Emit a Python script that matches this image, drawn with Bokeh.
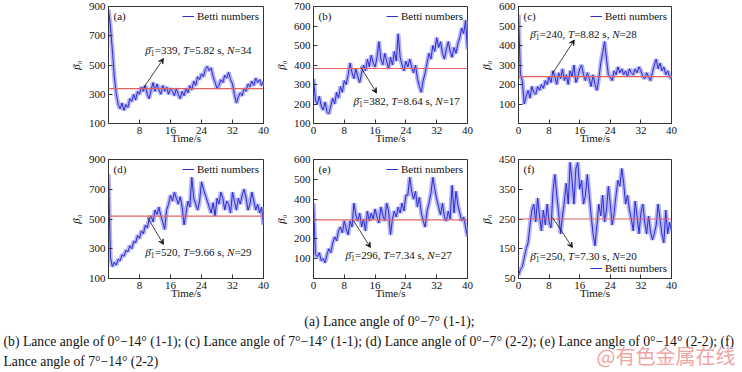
import numpy as np
from bokeh.plotting import figure
from bokeh.layouts import row, column
from bokeh.models import (Span, Arrow, VeeHead, Legend, LegendItem,
                          ColumnDataSource, FixedTicker, Range1d)
from bokeh.core.properties import value
from bokeh.embed import file_html
from bokeh.resources import INLINE

FONT = "Liberation Serif"

# ---------------- data (0.5 s steps, 0..40 s) ----------------
betti_a = [880, 760, 600, 420, 300, 230, 200, 240, 190, 230,
           210, 270, 250, 300, 260, 320, 300, 350, 320, 360,
           300, 270, 330, 380, 320, 370, 330, 300, 360, 320,
           350, 300, 340, 320, 290, 340, 300, 270, 320, 290,
           340, 310, 360, 330, 390, 360, 420, 400, 440, 420,
           470, 490, 460, 480, 420, 380, 340, 360, 400, 380,
           430, 410, 450, 400, 370, 300, 240, 280, 310, 290,
           340, 320, 370, 350, 390, 360, 410, 380, 400, 360,
           390]
betti_b = [330, 220, 200, 240, 190, 170, 210, 160, 150, 190,
           230, 200, 260, 230, 290, 260, 320, 300, 350, 410,
           360, 330, 380, 340, 310, 360, 400, 370, 430, 390,
           450, 410, 390, 440, 520, 430, 400, 460, 420, 380,
           440, 400, 470, 420, 560, 440, 400, 370, 420, 390,
           430, 390, 360, 400, 330, 290, 260, 320, 360, 410,
           460, 430, 500, 470, 540, 490, 520, 460, 430, 480,
           520, 470, 440, 490, 460, 510, 540, 590, 560, 630,
           480]
betti_c = [560, 250, 220, 100, 140, 170, 130, 190, 160, 150,
           190, 170, 200, 180, 220, 200, 240, 210, 270, 240,
           200, 260, 230, 280, 220, 250, 200, 270, 240, 300,
           210, 240, 280, 300, 250, 220, 260, 230, 190, 250,
           200, 170, 230, 310, 360, 420, 330, 250, 240, 220,
           270, 250, 290, 260, 280, 250, 270, 240, 280, 260,
           250, 280, 260, 290, 270, 240, 230, 260, 240, 220,
           260, 300, 330, 280, 310, 270, 290, 250, 270, 240,
           230]
betti_d = [800, 240, 180, 210, 190, 230, 220, 260, 250, 290,
           280, 320, 300, 350, 340, 390, 370, 420, 400, 460,
           440, 500, 520, 480, 560, 530, 580, 520, 480, 430,
           560, 600, 660, 620, 680, 640, 600, 650, 580, 460,
           540, 620, 580, 780, 640, 600, 560, 620, 750, 700,
           660, 620, 580, 540, 610, 520, 640, 600, 680, 640,
           560, 620, 600, 540, 680, 620, 560, 640, 600, 660,
           700, 640, 560, 600, 680, 620, 560, 600, 540, 580,
           460]
betti_e = [380, 120, 110, 130, 90, 100, 80, 120, 150, 130,
           180, 210, 190, 240, 260, 230, 290, 250, 220, 290,
           260, 380, 320, 290, 330, 260, 300, 240, 340, 290,
           330, 300, 350, 310, 280, 360, 320, 290, 380, 340,
           220, 300, 340, 310, 360, 330, 380, 340, 420, 420,
           510, 440, 400, 440, 360, 410, 330, 290, 260, 340,
           380, 430, 510, 450, 400, 360, 320, 380, 310, 290,
           340, 300, 470, 330, 440, 370, 330, 290, 310, 260,
           210]
betti_f = [60, 80, 90, 120, 150, 170, 230, 280, 300, 240,
           320, 260, 210, 280, 230, 300, 240, 220, 340, 400,
           330, 270, 200, 260, 310, 370, 300, 440, 380, 300,
           420, 440, 350, 380, 300, 330, 400, 330, 260, 200,
           160, 230, 300, 260, 330, 240, 280, 360, 300, 230,
           270, 330, 380, 360, 420, 370, 300, 330, 280, 250,
           210, 310, 260, 200, 270, 300, 240, 200, 260, 210,
           180, 200, 230, 300, 250, 200, 170, 280, 200, 240,
           210]

series = [betti_a, betti_b, betti_c, betti_d, betti_e, betti_f]
panel_tags = ["(a)", "(b)", "(c)", "(d)", "(e)", "(f)"]
mean_beta = [339, 382, 240, 520, 296, 250]
period_T = ["5.82", "8.64", "8.82", "9.66", "7.34", "7.30"]
count_N = [34, 17, 28, 29, 27, 20]
y_limits = [(100, 900), (100, 700), (0, 600), (100, 900), (0, 600), (50, 450)]
y_tick_vals = [[100, 300, 500, 700, 900],
               [100, 200, 300, 400, 500, 600, 700],
               [100, 200, 300, 400, 500, 600],
               [100, 300, 500, 700, 900],
               [100, 200, 300, 400, 500, 600],
               [50, 150, 250, 350, 450]]
x_tick_vals = [[8, 16, 24, 32, 40], [0, 8, 16, 24, 32, 40], [0, 8, 16, 24, 32, 40],
               [8, 16, 24, 32, 40], [0, 8, 16, 24, 32, 40], [0, 8, 16, 24, 32, 40]]
legend_label = "Betti numbers"
x_title = "Time/s"
y_title = "\u03b2\u2080"
caption_lines = ["(a) Lance angle of 0\u00b0\u22127\u00b0 (1-1);",
                 "(b) Lance angle of 0\u00b0\u221214\u00b0 (1-1); (c) Lance angle of 7\u00b0\u221214\u00b0 (1-1); "
                 "(d) Lance angle of 0\u00b0\u22127\u00b0 (2-2); (e) Lance angle of 0\u00b0\u221214\u00b0 (2-2); (f)",
                 "Lance angle of 7\u00b0\u221214\u00b0 (2-2)"]
watermark = "@\u6709\u8272\u91d1\u5c5e\u5728\u7ebf"

# ---------------- layout / style (positions) ----------------
cols = [(106, 155, 7), (43, 154, 8), (43, 153, 67)]
rows = [(6, 117, 27), (9, 119, 28)]
# annotation text anchor (t, value), arrow start, arrow end (head)
annot_pos = [
    ((9.5, 604), (9.0, 342), (14.2, 544)),
    ((10.4, 216), (12.2, 392), (16.4, 256)),
    ((3.1, 459), (8.9, 257), (14.6, 428)),
    ((9.5, 275), (10.1, 510), (14.2, 329)),
    ((8.3, 116), (10.4, 292), (14.8, 156)),
    ((3.1, 127), (8.9, 255), (14.1, 154)),
]
legend_loc = ["top_right"] * 5 + ["bottom_right"]

BAND = "#a8a8f4"
CORE = "#2c2cd0"
RED = "#e06464"
INK = "#111111"


def make_panel(k):
    c, r = k % 3, k // 3
    bl, fw, br = cols[c]
    bt, fh, bb = rows[r]
    y0, y1 = y_limits[k]
    p = figure(width=bl + fw + br, height=bt + fh + bb,
               x_range=Range1d(0, 40), y_range=Range1d(y0, y1),
               output_backend="svg", toolbar_location=None,
               min_border_left=bl, min_border_right=br,
               min_border_top=bt, min_border_bottom=bb)
    p.title.visible = False
    p.grid.visible = False
    p.outline_line_color = "#333333"
    p.outline_line_width = 1
    p.background_fill_color = "white"
    p.border_fill_color = "white"

    vals = series[k]
    t = np.linspace(0, 40, len(vals))
    p.line(t, vals, line_color=BAND, line_width=4.5, line_alpha=0.85)
    core = p.line(t, vals, line_color=CORE, line_width=1)

    p.add_layout(Span(location=mean_beta[k], dimension="width",
                      line_color=RED, line_width=1.2))

    for ax in (p.xaxis[0], p.yaxis[0]):
        ax.major_tick_in = 4
        ax.major_tick_out = 0
        ax.minor_tick_line_color = None
        ax.axis_line_color = "#333333"
        ax.major_tick_line_color = "#333333"
        ax.major_label_text_font = FONT
        ax.major_label_text_font_size = "11px"
        ax.major_label_text_color = INK
        ax.major_label_standoff = 3
        ax.axis_label_text_font = FONT
        ax.axis_label_text_font_size = "11px"
        ax.axis_label_text_color = INK
    p.xaxis.ticker = FixedTicker(ticks=x_tick_vals[k])
    p.yaxis.ticker = FixedTicker(ticks=y_tick_vals[k])
    p.xaxis.axis_label = x_title
    p.xaxis.axis_label_text_font_style = "normal"
    p.xaxis.axis_label_standoff = -5
    p.yaxis.axis_label = y_title
    p.yaxis.axis_label_text_font_style = "italic"
    p.yaxis.axis_label_standoff = 4

    # panel tag
    p.text(x=[0], y=[y1], text=[panel_tags[k]], x_offset=5, y_offset=9,
           text_font=value(FONT), text_font_size="11px", text_color=INK,
           text_baseline="middle", text_align="left")

    # legend
    leg = Legend(items=[LegendItem(label=legend_label, renderers=[core])],
                 location=legend_loc[k], border_line_color=None,
                 background_fill_alpha=0, label_text_font=FONT,
                 label_text_font_size="11px", label_text_color=INK,
                 glyph_width=12, glyph_height=10, label_standoff=3,
                 padding=2, margin=4, spacing=0, label_height=11)
    p.add_layout(leg)

    # annotation
    (tx, ty), (sx, sy), (ex, ey) = annot_pos[k]
    pieces = ["\u03b2\u0304", "1", f"={mean_beta[k]}, ", "T", f"={period_T[k]} s, ", "N", f"={count_N[k]}"]
    src = ColumnDataSource(dict(
        x=[tx] * len(pieces), y=[ty] * len(pieces), text=pieces,
        dx=[0, 5.5, 9.5, 37.7, 43.8, 81.8, 89.1],
        dy=[0, 3, 0, 0, 0, 0, 0],
        size=["11px", "7.5px", "11px", "11px", "11px", "11px", "11px"],
        style=["italic", "normal", "normal", "italic", "normal", "italic", "normal"]))
    p.text(x="x", y="y", text="text", x_offset="dx", y_offset="dy",
           text_font_size="size", text_font_style="style",
           text_font=value(FONT), text_color=INK,
           text_baseline="middle", text_align="left", source=src)
    p.add_layout(Arrow(end=VeeHead(size=5, line_color=INK, fill_color=INK, line_width=0.8),
                       x_start=sx, y_start=sy, x_end=ex, y_end=ey,
                       line_color=INK, line_width=0.8))
    return p


panels = [make_panel(k) for k in range(6)]

cap = figure(width=736, height=64, x_range=Range1d(0, 736), y_range=Range1d(64, 0),
             output_backend="svg", toolbar_location=None, min_border=0,
             x_axis_type=None, y_axis_type=None)
cap.title.visible = False
cap.grid.visible = False
cap.outline_line_color = None
cap.text(x=[387], y=[15], text=[caption_lines[0]], text_align="center", text_baseline="middle",
         text_font=value(FONT), text_font_size="13.7px", text_color=INK)
cap.text(x=[1], y=[35], text=[caption_lines[1]], text_align="left", text_baseline="middle",
         text_font=value(FONT), text_font_size="13.7px", text_color=INK)
cap.text(x=[1], y=[55], text=[caption_lines[2]], text_align="left", text_baseline="middle",
         text_font=value(FONT), text_font_size="13.7px", text_color=INK)
cap.text(x=[733], y=[49], text=[watermark], text_align="right", text_baseline="middle",
         text_font=value("Noto Sans CJK SC"), text_font_size="20px", text_color="#f0a4a4")

layout = column(row(*panels[:3]), row(*panels[3:]), cap, margin=(0, 0, 0, 2))

open("out.html", "w").write(file_html(layout, INLINE))
